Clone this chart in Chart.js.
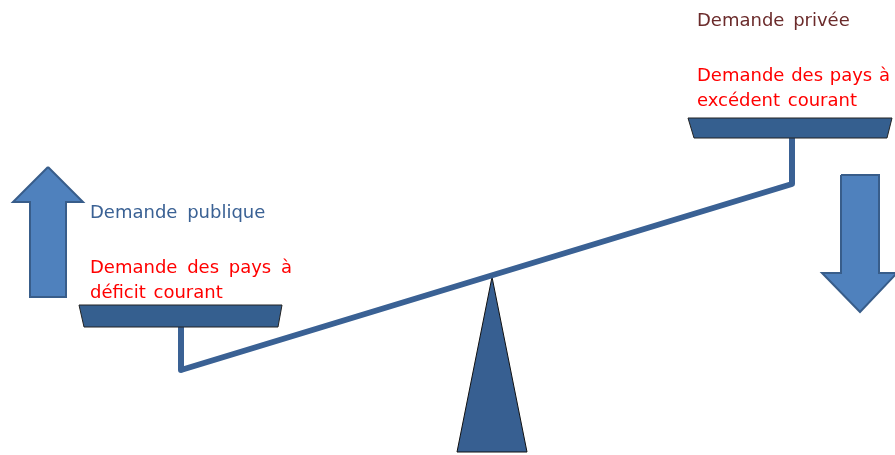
<!DOCTYPE html>
<html>
<head>
<meta charset="utf-8">
<script src="https://cdn.jsdelivr.net/npm/chart.js@4/dist/chart.umd.min.js"></script>
<style>
  html, body { margin: 0; padding: 0; background: #ffffff; }
  #wrap { width: 895px; height: 455px; }
</style>
</head>
<body>
<div id="wrap"><canvas id="balance" width="895" height="455"></canvas></div>
<script>
// shapes of the diagram, in a 895 x 455 drawing space (y grows downward)
const beam        = [[181, 327], [181, 370], [792, 184], [792, 138]];
const fulcrum     = [[492, 277], [527, 452], [457, 452], [492, 277]];
const panLeft     = [[79, 305], [282, 305], [278, 327], [84, 327], [79, 305]];
const panRight    = [[688, 118], [892, 118], [887, 138], [694, 138], [688, 118]];
const arrowUp     = [[48, 167], [83, 202], [66, 202], [66, 297], [30, 297], [30, 202], [13, 202], [48, 167]];
const arrowDown   = [[841, 175], [879, 175], [879, 273], [897, 273], [860, 312], [822, 273], [841, 273], [841, 175]];

// labels
const labelTexts  = ['Demande publique', 'Demande des pays à', 'déficit courant',
                     'Demande privée', 'Demande des pays à', 'excédent courant'];

function pts(a) { return a.map(p => ({ x: p[0], y: p[1] })); }

function shape(data, fillColor, lineColor, lineWidth, order) {
    return {
        data: pts(data),
        showLine: true,
        fill: fillColor ? 'shape' : false,
        backgroundColor: fillColor || 'transparent',
        borderColor: lineColor,
        borderWidth: lineWidth,
        borderJoinStyle: 'miter',
        pointRadius: 0,
        tension: 0,
        order: order
    };
}

const textPlugin = {
    id: 'textPlugin',
    afterDatasetsDraw(chart) {
        const ctx = chart.ctx;
        const sx = chart.scales.x, sy = chart.scales.y;
        const place = [
            [90, 218, '#3A6194', '4px'],
            [90, 273, '#FF0000', '4px'],
            [90, 298, '#FF0000', '2px'],
            [697, 26, '#6B2B2B', '3px'],
            [697, 81, '#FF0000', '1px'],
            [697, 106, '#FF0000', '2px']
        ];
        ctx.save();
        ctx.font = '18px "DejaVu Sans", Verdana, sans-serif';
        ctx.textAlign = 'left';
        ctx.textBaseline = 'alphabetic';
        labelTexts.forEach((t, i) => {
            ctx.fillStyle = place[i][2];
            ctx.wordSpacing = place[i][3];
            ctx.fillText(t, sx.getPixelForValue(place[i][0]), sy.getPixelForValue(place[i][1]));
        });
        ctx.restore();
    }
};

const beamSet = shape(beam, null, '#3A6194', 6, 3);
beamSet.borderJoinStyle = 'round';

new Chart(document.getElementById('balance'), {
    type: 'scatter',
    data: {
        datasets: [
            shape(fulcrum, '#375F91', '#111111', 1, 4),
            beamSet,
            shape(panLeft, '#355F8F', '#222222', 1, 2),
            shape(panRight, '#355F8F', '#222222', 1, 2),
            shape(arrowUp, '#4F81BD', '#385D8A', 2, 1),
            shape(arrowDown, '#4F81BD', '#385D8A', 2, 1)
        ]
    },
    options: {
        responsive: false,
        animation: false,
        layout: { padding: 0 },
        plugins: { legend: { display: false }, tooltip: { enabled: false } },
        scales: {
            x: { type: 'linear', min: 0, max: 895, display: false },
            y: { type: 'linear', min: 0, max: 455, reverse: true, display: false }
        }
    },
    plugins: [textPlugin]
});
</script>
</body>
</html>
